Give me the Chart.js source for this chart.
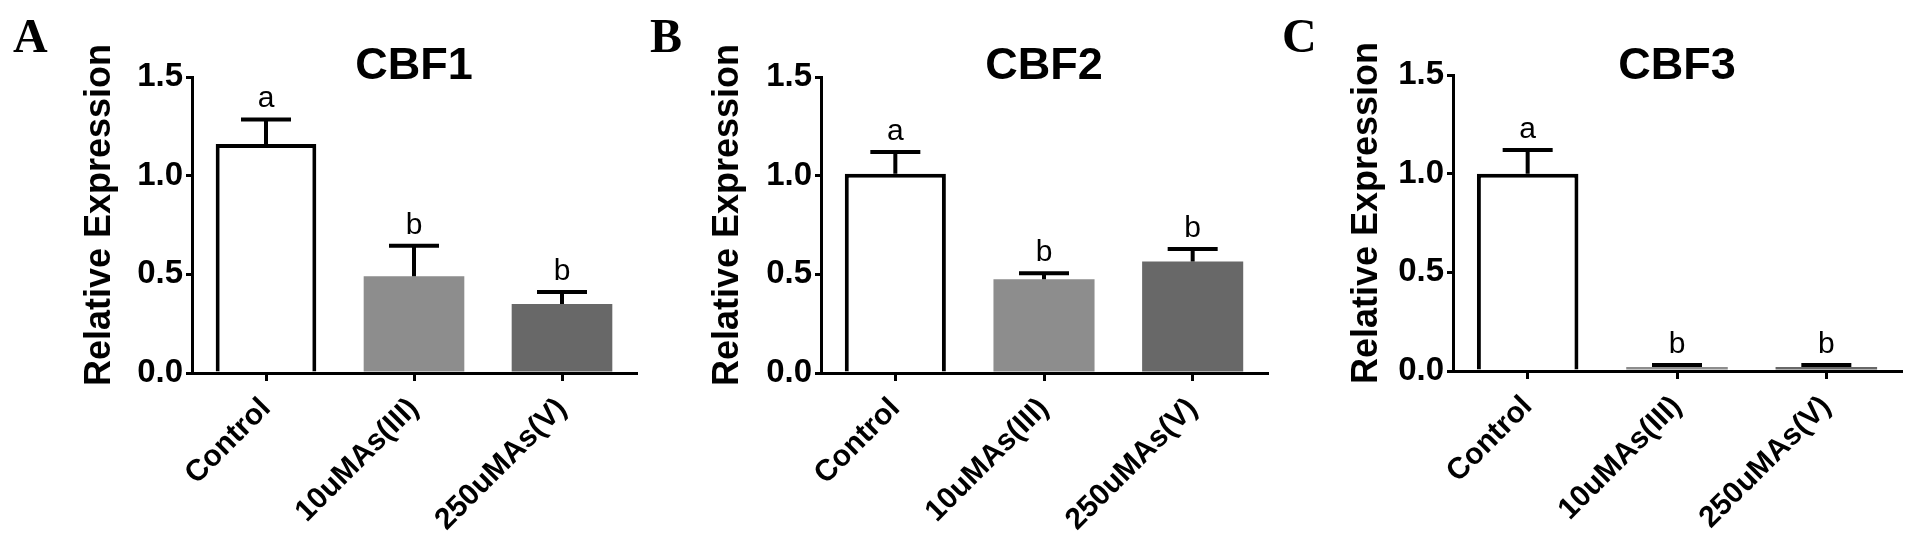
<!DOCTYPE html>
<html><head><meta charset="utf-8">
<script src="https://cdn.jsdelivr.net/npm/chart.js@4.4.1/dist/chart.umd.min.js"></script>
<style>
html,body{margin:0;padding:0;background:#fff;width:1920px;height:550px;overflow:hidden}
canvas{position:absolute;top:0}
</style></head><body>
<canvas id="cA" width="640" height="550" style="left:0px"></canvas>
<canvas id="cB" width="640" height="550" style="left:640px"></canvas>
<canvas id="cC" width="640" height="550" style="left:1280px"></canvas>
<script>
// ---- data ----
const categories = ['Control', '10uMAs(III)', '250uMAs(V)'];
const yTickValues = [0, 0.5, 1.0, 1.5];
const yAxisLabel = 'Relative Expression';

const cbf1Mean = [1.16, 0.49, 0.35];
const cbf1Err  = [0.125, 0.155, 0.06];
const cbf1Sig  = ['a', 'b', 'b'];

const cbf2Mean = [1.01, 0.475, 0.565];
const cbf2Err  = [0.11, 0.03, 0.063];
const cbf2Sig  = ['a', 'b', 'b'];

const cbf3Mean = [1.0, 0.02, 0.02];
const cbf3Err  = [0.12, 0.01, 0.01];
const cbf3Sig  = ['a', 'b', 'b'];

// ---- styles / layout ----
const barColors = ['#ffffff', '#8d8d8d', '#686868'];
const barBorders = [4, 0, 0];
const SANS = '"Liberation Sans", Arial, sans-serif';
const SERIF = '"Liberation Serif", "Times New Roman", serif';

const panels = [
  {id: 'cA', letter: 'A', title: 'CBF1', mean: cbf1Mean, err: cbf1Err, sig: cbf1Sig,
   area: {left: 192, right: 636, top: 77, bottom: 373}, letterX: 13, yTitleX: 100, yTitleY: 215},
  {id: 'cB', letter: 'B', title: 'CBF2', mean: cbf2Mean, err: cbf2Err, sig: cbf2Sig,
   area: {left: 181, right: 627, top: 77, bottom: 373}, letterX: 10, yTitleX: 88, yTitleY: 215},
  {id: 'cC', letter: 'C', title: 'CBF3', mean: cbf3Mean, err: cbf3Err, sig: cbf3Sig,
   area: {left: 173, right: 621, top: 75, bottom: 371}, letterX: 2, yTitleX: 87, yTitleY: 213}
];

const overlay = {
  id: 'overlay',
  afterDatasetsDraw(chart, args, o) {
    const {ctx, chartArea, scales: {y}} = chart;
    const meta = chart.getDatasetMeta(0);
    ctx.save();
    // error bars + significance letters
    ctx.strokeStyle = '#000';
    ctx.lineWidth = 4;
    ctx.lineCap = 'butt';
    o.mean.forEach((m, i) => {
      const bx = meta.data[i].x;
      const yb = y.getPixelForValue(m);
      const yt = y.getPixelForValue(m + o.err[i]);
      ctx.beginPath();
      ctx.moveTo(bx, yb); ctx.lineTo(bx, yt);
      ctx.moveTo(bx - 25, yt); ctx.lineTo(bx + 25, yt);
      ctx.stroke();
      ctx.fillStyle = '#000';
      ctx.font = '30px ' + SANS;
      ctx.textAlign = 'center';
      ctx.textBaseline = 'alphabetic';
      ctx.fillText(o.sig[i], bx, yt - 12);
    });
    // chart title
    ctx.font = 'bold 45px ' + SANS;
    ctx.textAlign = 'center';
    ctx.textBaseline = 'alphabetic';
    ctx.fillText(o.title, (chartArea.left + chartArea.right) / 2, 79);
    // panel letter
    ctx.font = 'bold 48px ' + SERIF;
    ctx.textAlign = 'left';
    ctx.fillText(o.letter, o.letterX, 52);
    // y axis title
    ctx.translate(o.yTitleX, o.yTitleY);
    ctx.rotate(-Math.PI / 2);
    ctx.font = 'bold 36px ' + SANS;
    ctx.textAlign = 'center';
    ctx.textBaseline = 'middle';
    ctx.fillText(yAxisLabel, 0, 0);
    ctx.restore();
  }
};

panels.forEach(p => {
  const H = 550, W = 640;
  new Chart(document.getElementById(p.id), {
    type: 'bar',
    data: {
      labels: categories,
      datasets: [{
        data: p.mean,
        backgroundColor: barColors,
        borderColor: '#000',
        borderWidth: barBorders,
        barPercentage: 0.68,
        categoryPercentage: 1.0
      }]
    },
    options: {
      responsive: false,
      animation: false,
      devicePixelRatio: 1,
      events: [],
      layout: {padding: {left: 0, right: W - p.area.right, top: p.area.top, bottom: 0}},
      plugins: {
        legend: {display: false},
        tooltip: {enabled: false},
        overlay: {mean: p.mean, err: p.err, sig: p.sig, title: p.title, letter: p.letter,
                  letterX: p.letterX, yTitleX: p.yTitleX, yTitleY: p.yTitleY}
      },
      scales: {
        x: {
          type: 'category',
          offset: true,
          afterFit: s => { s.height = H - p.area.bottom; },
          border: {display: true, color: '#000', width: 3},
          grid: {display: true, offset: false, drawOnChartArea: false, drawTicks: true,
                 tickLength: 8, color: '#000', lineWidth: 3},
          ticks: {color: '#000', font: {family: SANS, size: 30, weight: 'bold'},
                  minRotation: 45, maxRotation: 45, padding: 10, autoSkip: false}
        },
        y: {
          min: 0, max: 1.5,
          afterFit: s => { s.width = p.area.left; },
          afterBuildTicks: s => { s.ticks = yTickValues.map(v => ({value: v})); },
          border: {display: true, color: '#000', width: 3},
          grid: {display: true, drawOnChartArea: false, drawTicks: true,
                 tickLength: 6, color: '#000', lineWidth: 3},
          ticks: {color: '#000', font: {family: SANS, size: 33, weight: 'bold'},
                  padding: 3, callback: v => Number(v).toFixed(1)}
        }
      }
    },
    plugins: [overlay]
  });
});
</script>
</body></html>
